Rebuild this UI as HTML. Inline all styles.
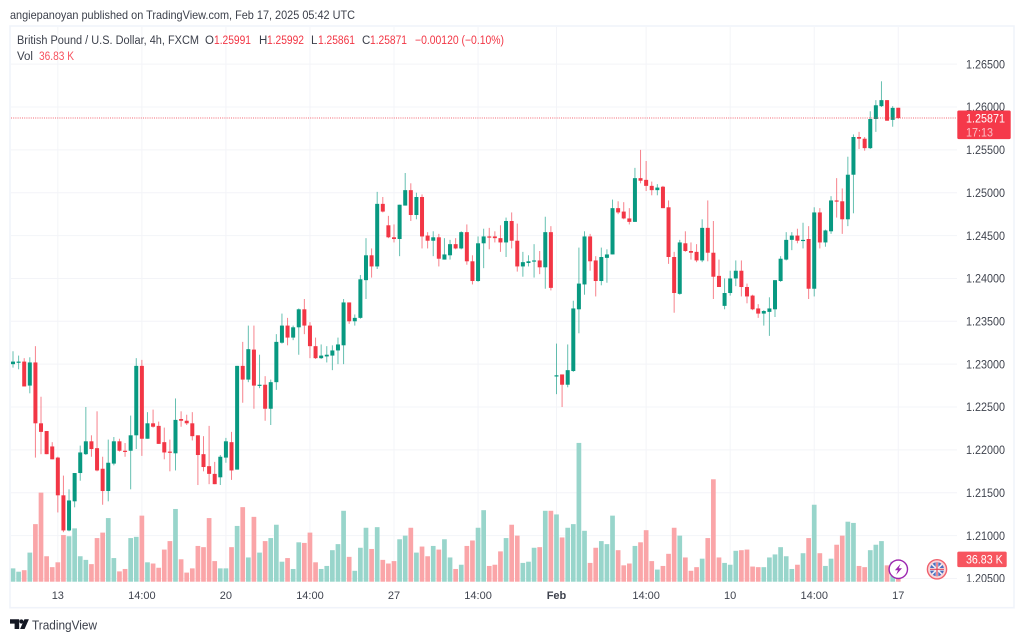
<!DOCTYPE html>
<html lang="en">
<head>
<meta charset="utf-8">
<title>GBP/USD 4h chart</title>
<style>
html,body{margin:0;padding:0;background:#fff;width:1024px;height:641px;overflow:hidden}
svg{display:block;filter:blur(.3px)}
text{font-family:"Liberation Sans",sans-serif;white-space:pre}
</style>
</head>
<body>
<svg id="chart" xmlns="http://www.w3.org/2000/svg" width="1024" height="641" viewBox="0 0 1024 641">
  <rect x="0" y="0" width="1024" height="641" fill="#ffffff"/>
  <text x="10" y="19" font-size="12" fill="#3c404b" textLength="345" lengthAdjust="spacingAndGlyphs">angiepanoyan published on TradingView.com, Feb 17, 2025 05:42 UTC</text>
  <g id="grid"></g>
  <g id="volume"></g>
  <g id="candles"></g>
  <g id="lastline"></g>
  <rect x="11" y="582" width="1002" height="25" fill="#ffffff"/>
  <g id="yaxis"></g>
  <rect x="958" y="582" width="55" height="25" fill="#ffffff"/>
  <g id="xaxis"></g>
  <rect x="10" y="26" width="1004" height="581.7" fill="none" stroke="#f0f3fa" stroke-width="1.6"/>

  <g font-size="11.5">
    <text x="17" y="44" fill="#3c404b" textLength="182" lengthAdjust="spacingAndGlyphs">British Pound / U.S. Dollar, 4h, FXCM</text>
    <text x="205" y="44" fill="#3c404b">O</text>
    <text x="214" y="44" fill="#f23645" textLength="37" lengthAdjust="spacingAndGlyphs">1.25991</text>
    <text x="259" y="44" fill="#3c404b">H</text>
    <text x="267" y="44" fill="#f23645" textLength="37" lengthAdjust="spacingAndGlyphs">1.25992</text>
    <text x="311" y="44" fill="#3c404b">L</text>
    <text x="318" y="44" fill="#f23645" textLength="37" lengthAdjust="spacingAndGlyphs">1.25861</text>
    <text x="362" y="44" fill="#3c404b">C</text>
    <text x="370" y="44" fill="#f23645" textLength="37" lengthAdjust="spacingAndGlyphs">1.25871</text>
    <text x="415" y="44" fill="#f23645" textLength="89" lengthAdjust="spacingAndGlyphs">−0.00120 (−0.10%)</text>
    <text x="17" y="60" fill="#3c404b">Vol</text>
    <text x="39" y="60" fill="#f7525f" textLength="35" lengthAdjust="spacingAndGlyphs">36.83 K</text>
  </g>

  <g>
    <circle cx="898.3" cy="569.3" r="9.2" fill="#ffffff" stroke="#9c27b0" stroke-width="1.4"/>
    <path d="M900.6 563.8 L894.9 570.2 H898 L896.2 574.8 L902 568.2 H898.8 Z" fill="#9c27b0"/>
  </g>
  <g>
    <circle cx="937" cy="569.3" r="9.6" fill="#f9d6da" stroke="#f0616d" stroke-width="1.4"/>
    <circle cx="937" cy="569.3" r="7" fill="#4a6fc0"/>
    <path d="M932 564.3 L942 574.3 M942 564.3 L932 574.3" stroke="#f3eef2" stroke-width="1.6"/>
    <path d="M937 562.3 V576.3 M930 569.3 H944" stroke="#f3eef2" stroke-width="2.6"/>
    <path d="M937 562.3 V576.3 M930 569.3 H944" stroke="#e0465a" stroke-width="1.2"/>
  </g>

  <g>
    <path d="M10 619.3 H19.2 V629 H14.6 V623.6 H10 Z M24.4 619.3 H28.9 L24.6 629 H20.1 Z" fill="#131722"/>
    <circle cx="21.4" cy="621.5" r="2.1" fill="#131722"/>
    <text x="32" y="629.5" font-size="13" fill="#3c404b" textLength="65" lengthAdjust="spacingAndGlyphs">TradingView</text>
  </g>
</svg>
<script>
var opens=[1.2300,1.2302,1.2303,1.2275,1.2302,1.2231,1.2222,1.2204,1.2191,1.2147,1.2106,1.2140,1.2173,1.2195,1.2210,1.2202,1.2178,1.2152,1.2184,1.2210,1.2199,1.2199,1.2217,1.2298,1.2213,1.2231,1.2228,1.2209,1.2198,1.2196,1.2236,1.2234,1.2231,1.2217,1.2195,1.2181,1.2172,1.2168,1.2191,1.2209,
1.2177,1.2298,1.2282,1.2317,1.2275,1.2276,1.2248,1.2279,1.2325,1.2345,1.2331,1.2343,1.2364,1.2345,1.2321,1.2307,1.2309,1.2310,1.2316,1.2322,1.2372,1.2350,1.2354,1.2398,1.2427,1.2414,1.2487,1.2462,1.2448,1.2446,
1.2485,1.2503,1.2474,1.2495,1.2450,1.2444,1.2448,1.2422,1.2427,1.2440,1.2435,1.2454,1.2420,1.2397,1.2441,1.2449,1.2449,1.2447,1.2442,1.2467,1.2444,1.2414,1.2418,1.2420,1.2421,1.2413,1.2454,
1.2286,1.2288,1.2276,1.2292,1.2364,1.2393,1.2449,1.2421,1.2397,1.2424,1.2428,1.2482,1.2478,1.2470,1.2466,1.2517,1.2515,1.2508,1.2503,1.2507,1.2483,1.2425,1.2382,1.2441,1.2432,1.2431,1.2421,1.2459,1.2430,1.2403,1.2368,1.2383,1.2400,1.2409,1.2390,1.2380,1.2365,1.2359,1.2361,1.2364,
1.2397,1.2422,1.2445,1.2450,1.2444,1.2446,1.2388,1.2477,1.2442,1.2455,1.2491,1.2490,1.2469,1.2521,1.2565,1.2563,1.2552,1.2586,1.2601,1.2608,1.2585,1.25991];
var highs=[1.2315,1.2310,1.2307,1.2308,1.2321,1.2262,1.2222,1.2209,1.2192,1.2170,1.2154,1.2173,1.2205,1.2250,1.2217,1.2245,1.2192,1.2212,1.2215,1.2213,1.2208,1.2240,1.2307,1.2305,1.2244,1.2247,1.2233,1.2226,1.2212,1.2260,1.2245,1.2241,1.2244,1.2217,1.2216,1.2228,1.2186,1.2194,1.2214,1.2221,
1.2298,1.2326,1.2345,1.2345,1.2311,1.2286,1.2282,1.2335,1.2359,1.2354,1.2345,1.2365,1.2376,1.2349,1.2331,1.2323,1.2321,1.2322,1.2331,1.2376,1.2372,1.2358,1.2404,1.2447,1.2435,1.2501,1.2495,1.2473,1.2463,1.2486,
1.2523,1.2511,1.2500,1.2498,1.2454,1.2455,1.2452,1.2447,1.2445,1.2447,1.2455,1.2463,1.2427,1.2449,1.2458,1.2459,1.2455,1.2462,1.2471,1.2477,1.2464,1.2431,1.2427,1.2440,1.2432,1.2472,1.2461,
1.2324,1.2288,1.2323,1.2374,1.2436,1.2455,1.2452,1.2426,1.2436,1.2434,1.2492,1.2490,1.2489,1.2482,1.2529,1.2550,1.2537,1.2513,1.2510,1.2508,1.2491,1.2431,1.2445,1.2455,1.2442,1.2440,1.2469,1.2491,1.2467,1.2422,1.2400,1.2409,1.2421,1.2421,1.2394,1.2381,1.2370,1.2363,1.2378,1.2398,
1.2426,1.2454,1.2454,1.2458,1.2465,1.2461,1.2483,1.2482,1.2457,1.2496,1.2517,1.2505,1.2542,1.2568,1.2571,1.2565,1.2595,1.2608,1.2630,1.2608,1.2601,1.25992];
var lows=[1.2296,1.2294,1.2274,1.2266,1.2191,1.2195,1.2195,1.2189,1.2127,1.2104,1.2105,1.2133,1.2164,1.2194,1.2192,1.2175,1.2136,1.2140,1.2182,1.2198,1.2192,1.2154,1.2201,1.2193,1.2213,1.2226,1.2207,1.2189,1.2175,1.2176,1.2227,1.2229,1.2211,1.2159,1.2175,1.2160,1.2160,1.2159,1.2185,1.2165,
1.2177,1.2255,1.2279,1.2248,1.2272,1.2234,1.2229,1.2270,1.2324,1.2322,1.2328,1.2311,1.2335,1.2307,1.2306,1.2306,1.2302,1.2293,1.2300,1.2300,1.2347,1.2345,1.2353,1.2376,1.2401,1.2411,1.2477,1.2447,1.2442,1.2426,
1.2485,1.2467,1.2469,1.2435,1.2435,1.2426,1.2414,1.2422,1.2422,1.2434,1.2434,1.2416,1.2393,1.2396,1.2412,1.2434,1.2442,1.2431,1.2425,1.2435,1.2408,1.2402,1.2414,1.2401,1.2405,1.2388,1.2386,
1.2265,1.2250,1.2273,1.2291,1.2336,1.2381,1.2409,1.2379,1.2392,1.2395,1.2428,1.2475,1.2469,1.2463,1.2466,1.2511,1.2502,1.2497,1.2497,1.2482,1.2417,1.2360,1.2381,1.2431,1.2422,1.2419,1.2419,1.2420,1.2376,1.2390,1.2364,1.2380,1.2391,1.2379,1.2371,1.2363,1.2354,1.2345,1.2333,1.2355,
1.2396,1.2421,1.2433,1.2441,1.2435,1.2376,1.2379,1.2435,1.2437,1.2452,1.2471,1.2452,1.2461,1.2476,1.2551,1.2549,1.2551,1.2571,1.2600,1.2584,1.2577,1.25861];
var closes=[1.2303,1.2303,1.2274,1.2302,1.2231,1.2221,1.2195,1.2189,1.2147,1.2106,1.2141,1.2173,1.2197,1.2210,1.2201,1.2176,1.2152,1.2185,1.2210,1.2199,1.21985,1.2217,1.2298,1.2213,1.2231,1.2227,1.2207,1.2197,1.2197,1.2235,1.2234,1.2231,1.2216,1.2194,1.2180,1.2172,1.2160,1.2192,1.2210,1.2176,
1.2298,1.2282,1.23175,1.2275,1.2276,1.2248,1.2279,1.2326,1.2345,1.2331,1.2343,1.2364,1.2345,1.2321,1.2307,1.2310,1.2311,1.2316,1.2323,1.2372,1.2350,1.2354,1.2399,1.2427,1.2414,1.2487,1.2478,1.2448,1.2446,1.2486,
1.2503,1.2474,1.2495,1.2449,1.2444,1.2448,1.2423,1.2428,1.2440,1.2435,1.2454,1.2420,1.2397,1.2441,1.2449,1.24485,1.2447,1.2442,1.2467,1.2444,1.2414,1.2419,1.2420,1.2421,1.2413,1.2454,1.2389,
1.2287,1.2276,1.2293,1.2365,1.2394,1.2449,1.2420,1.2397,1.2425,1.2428,1.2482,1.2477,1.2470,1.2466,1.2517,1.2514,1.2508,1.2503,1.2506,1.2482,1.2425,1.2383,1.2442,1.2432,1.2430,1.2421,1.2459,1.2430,1.2402,1.2390,1.2383,1.2400,1.2409,1.2390,1.2379,1.2364,1.2359,1.2362,1.2365,1.2398,
1.2423,1.2445,1.2450,1.2444,1.2445,1.2388,1.2477,1.2442,1.2456,1.2491,1.2490,1.2469,1.2521,1.2565,1.2563,1.2552,1.2586,1.2602,1.2608,1.2584,1.2599,1.25871];
var volumes=[22,16.5,19,48,95,147,42,24,32,77,75,88,42,36,29,72,81,105,39,17,21,72,74,109,32,30,23,53,67,120,37,15,22,59,57,105,34,22,22,57,
92,123,40,107,48,67,72,94,33,39,21,65,64,81,32,21,26,52,62,117,41,18,56,89,54,90,36,30,34,70,
76,89,48,58,42,59,53,70,40,21,28,59,68,89,118,26,28,50,72,94,76,31,33,56,57,117,117,
111,73,89,95,229,84,31,56,67,62,109,52,27,30,59,65,85,34,20,26,46,89,76,40,18,24,38,72,169,40,31,28,51,52,53,25,24,24,40,45,
57,42,21,28,47,72,127,47,26,38,61,76,99,97,26,24,52,61,67,27,33,36.83];
var priceTicks=[1.265,1.26,1.255,1.25,1.245,1.24,1.235,1.23,1.225,1.22,1.215,1.21,1.205];
var timeTickBars=[8,23,38,53,68,83,97,113,128,143,158];
var timeTickLabels=["13","14:00","20","14:00","27","14:00","Feb","14:00","10","14:00","17"];
var lastPrice=1.25871;
var lastVolume=36.83;
var lastPriceText="1.25871";
var countdownText="17:13";
var lastVolumeText="36.83 K";

var NS="http://www.w3.org/2000/svg";
var UP="#089981",DOWN="#f23645";
function xScale(i){return 13+5.603*i;}
function yScale(p){return 107+(1.26-p)/0.005*42.86;}
function vScale(v){return v/1.65;}
var BASE=581.7;
function make(tag,attrs,parent){
  var el=document.createElementNS(NS,tag);
  for(var k in attrs){el.setAttribute(k,attrs[k]);}
  parent.appendChild(el);
  return el;
}
var gridG=document.getElementById("grid");
var volG=document.getElementById("volume");
var candleG=document.getElementById("candles");
var yG=document.getElementById("yaxis");
var xG=document.getElementById("xaxis");
var lastG=document.getElementById("lastline");

priceTicks.forEach(function(p){
  var y=yScale(p);
  var line=make("line",{x1:11,x2:957,y1:y,y2:y,stroke:"#f3f4f8","stroke-width":1},gridG);
  
  
  var t=make("text",{x:966,y:y+4.2,"font-size":11.8,fill:"#3f434e",textLength:39,lengthAdjust:"spacingAndGlyphs"},yG);
  
  
  t.textContent=p.toFixed(5);
});
timeTickBars.forEach(function(b,n){
  var x=xScale(b);
  var line=make("line",{x1:x,x2:x,y1:27,y2:582,stroke:"#f3f4f8","stroke-width":1},gridG);
  
  
  var label=timeTickLabels[n];
  var t=make("text",{x:x,y:599,"font-size":11,fill:"#3f434e","text-anchor":"middle"},xG);
  if(label==="Feb"){t.setAttribute("font-weight","bold");}
  
  
  t.textContent=label;
});
volumes.forEach(function(v,i){
  var up=closes[i]>=opens[i];
  var h=vScale(v);
  var r=make("rect",{x:xScale(i)-2.35,y:BASE-h,width:4.7,height:h,fill:up?"#98d5cb":"#faa5a8"},volG);
  
  
});
opens.forEach(function(o,i){
  var c=closes[i],up=c>=o,col=up?UP:DOWN,x=xScale(i);
  var g=make("g",{},candleG);
  
  
  var w=make("line",{x1:x,x2:x,y1:yScale(highs[i]),y2:yScale(lows[i]),stroke:col,"stroke-width":1,"stroke-opacity":0.62},g);
  
  
  var top=yScale(Math.max(o,c)),bot=yScale(Math.min(o,c));
  var b=make("rect",{x:x-2,y:top,width:4,height:Math.max(bot-top,1.2),fill:col},g);
  
  
});
var ly=yScale(lastPrice);
var dl=make("line",{x1:11,x2:957,y1:ly,y2:ly,stroke:DOWN,"stroke-width":1,"stroke-dasharray":"1 1.2","stroke-opacity":0.75},lastG);


var tag=make("rect",{x:957.3,y:ly-7.5,width:53.4,height:28.6,rx:1.5,fill:"#f5394a"},yG);


var tp=make("text",{x:966,y:ly+4.2,"font-size":11.8,fill:"#ffffff",textLength:39,lengthAdjust:"spacingAndGlyphs"},yG);


tp.textContent=lastPriceText;
var tc=make("text",{x:966,y:ly+18.4,"font-size":11.8,fill:"#fbc0c6",textLength:27,lengthAdjust:"spacingAndGlyphs"},yG);


tc.textContent=countdownText;
var vy=BASE-vScale(lastVolume);
var vt=make("rect",{x:957.3,y:vy-7.7,width:49.4,height:15.4,rx:1.5,fill:"#f7555f"},yG);


var vtx=make("text",{x:966,y:vy+4.2,"font-size":11.8,fill:"#ffffff",textLength:36.7,lengthAdjust:"spacingAndGlyphs"},yG);


vtx.textContent=lastVolumeText;
</script>
</body>
</html>
